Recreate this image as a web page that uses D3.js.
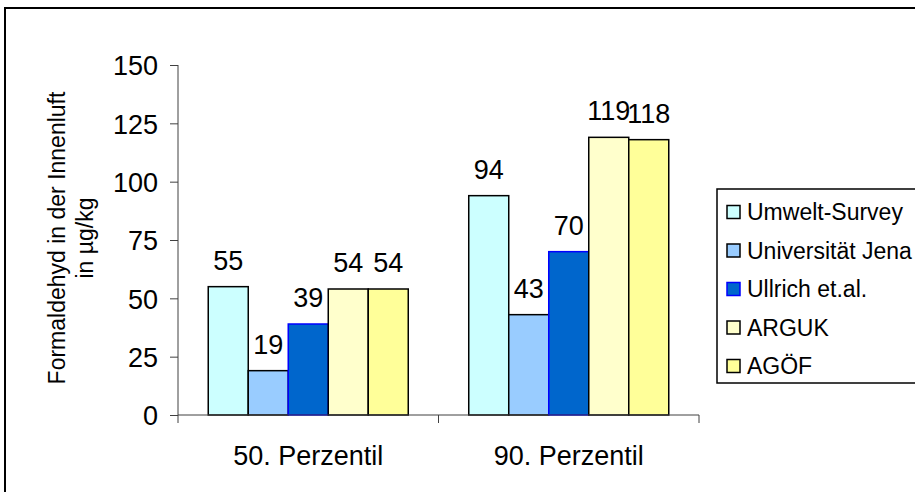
<!DOCTYPE html>
<html>
<head>
<meta charset="utf-8">
<script src="https://cdn.jsdelivr.net/npm/d3@7"></script>
<style>
  html, body { margin: 0; padding: 0; background: #fff; }
  svg { display: block; font-family: "Liberation Sans", Arial, sans-serif; }
</style>
</head>
<body>
<svg id="chart" width="915" height="492"></svg>
<script>
// Formaldehyde in indoor air, percentiles by study
const categories = ["50. Perzentil", "90. Perzentil"];
const seriesNames = ["Umwelt-Survey", "Universität Jena", "Ullrich et.al.", "ARGUK", "AGÖF"];
const umweltSurvey = [55, 94];
const uniJena = [19, 43];
const ullrich = [39, 70];
const arguk = [54, 119];
const agoef = [54, 118];
const yTicks = [0, 25, 50, 75, 100, 125, 150];
const yTitle = ["Formaldehyd in der Innenluft", "in µg/kg"];

const seriesValues = [umweltSurvey, uniJena, ullrich, arguk, agoef];
const fills = ["#CCFFFF", "#99CCFF", "#0066CC", "#FFFFCC", "#FFFF99"];
const strokes = ["#000", "#000", "#0000FF", "#000", "#000"];

const svg = d3.select("#chart");

// outer chart frame (continues past the right and bottom edges)
svg.append("rect")
  .attr("x", 5).attr("y", 8).attr("width", 940).attr("height", 520)
  .attr("fill", "none").attr("stroke", "#000").attr("stroke-width", 2);

const plot = { left: 178, right: 699, top: 65, bottom: 415 };

const y = d3.scaleLinear().domain([0, 150]).range([plot.bottom, plot.top]);
const x0 = d3.scaleBand().domain(categories).range([plot.left, plot.right]).padding(0);
const x1 = d3.scaleBand().domain(seriesNames).range([0, x0.bandwidth()])
  .paddingInner(0).paddingOuter(0.756);

// bars
const groups = svg.append("g").selectAll("g")
  .data(categories)
  .join("g")
  .attr("transform", d => `translate(${x0(d)},0)`);

groups.selectAll("rect")
  .data((c, ci) => seriesNames.map((s, si) => ({ s, si, v: seriesValues[si][ci] })))
  .join("rect")
  .attr("x", d => x1(d.s))
  .attr("y", d => y(d.v))
  .attr("width", x1.bandwidth())
  .attr("height", d => y(0) - y(d.v))
  .attr("fill", d => fills[d.si])
  .attr("stroke", d => strokes[d.si])
  .attr("stroke-width", 1.5);

// value labels
groups.selectAll("text")
  .data((c, ci) => seriesNames.map((s, si) => ({ s, si, v: seriesValues[si][ci] })))
  .join("text")
  .attr("x", d => x1(d.s) + x1.bandwidth() / 2)
  .attr("y", d => y(d.v) - 17)
  .attr("text-anchor", "middle")
  .attr("font-size", 27)
  .attr("fill", "#000")
  .text(d => d.v);

// y axis
const yAxis = d3.axisLeft(y).tickValues(yTicks).tickSize(8).tickPadding(12);
const gy = svg.append("g").attr("transform", `translate(${plot.left},0)`).call(yAxis);
gy.select(".domain").remove();
gy.selectAll(".tick line").attr("stroke", "#404040").attr("stroke-width", 1);
gy.selectAll(".tick text").attr("font-size", 27).attr("fill", "#000")
  .attr("font-family", "Liberation Sans, Arial, sans-serif").attr("dy", "0.36em");
svg.append("line")
  .attr("x1", plot.left).attr("x2", plot.left)
  .attr("y1", plot.top).attr("y2", plot.bottom + 8)
  .attr("stroke", "#404040").attr("stroke-width", 1);

// x axis
svg.append("line")
  .attr("x1", plot.left).attr("x2", plot.right)
  .attr("y1", plot.bottom).attr("y2", plot.bottom)
  .attr("stroke", "#404040").attr("stroke-width", 1);
const boundaries = categories.map(c => x0(c)).concat([x0(categories[categories.length - 1]) + x0.bandwidth()]);
svg.append("g").selectAll("line")
  .data(boundaries.slice(1))
  .join("line")
  .attr("x1", d => d).attr("x2", d => d)
  .attr("y1", plot.bottom).attr("y2", plot.bottom + 8)
  .attr("stroke", "#404040").attr("stroke-width", 1);
svg.append("g").selectAll("text")
  .data(categories)
  .join("text")
  .attr("x", d => x0(d) + x0.bandwidth() / 2)
  .attr("y", 465)
  .attr("text-anchor", "middle")
  .attr("font-size", 27)
  .attr("fill", "#000")
  .text(d => d);

// y axis title
const yt = svg.append("text")
  .attr("transform", "translate(65,238) rotate(-90)")
  .attr("text-anchor", "middle")
  .attr("font-size", 23)
  .attr("fill", "#000");
yt.selectAll("tspan")
  .data(yTitle)
  .join("tspan")
  .attr("x", 0)
  .attr("dy", (d, i) => i === 0 ? 0 : 28)
  .text(d => d);

// legend
const legend = svg.append("g");
legend.append("rect")
  .attr("x", 717).attr("y", 189).attr("width", 230).attr("height", 194)
  .attr("fill", "#fff").attr("stroke", "#000").attr("stroke-width", 1.5);
const items = legend.selectAll("g.item")
  .data(seriesNames)
  .join("g")
  .attr("class", "item")
  .attr("transform", (d, i) => `translate(0,${212 + i * 38.5})`);
items.append("rect")
  .attr("x", 727).attr("y", -6.5).attr("width", 13).attr("height", 13)
  .attr("fill", (d, i) => fills[i])
  .attr("stroke", (d, i) => strokes[i])
  .attr("stroke-width", 1.5);
items.append("text")
  .attr("x", 747).attr("y", 0).attr("dy", "0.36em")
  .attr("font-size", 23)
  .attr("fill", "#000")
  .text(d => d);
</script>
</body>
</html>
